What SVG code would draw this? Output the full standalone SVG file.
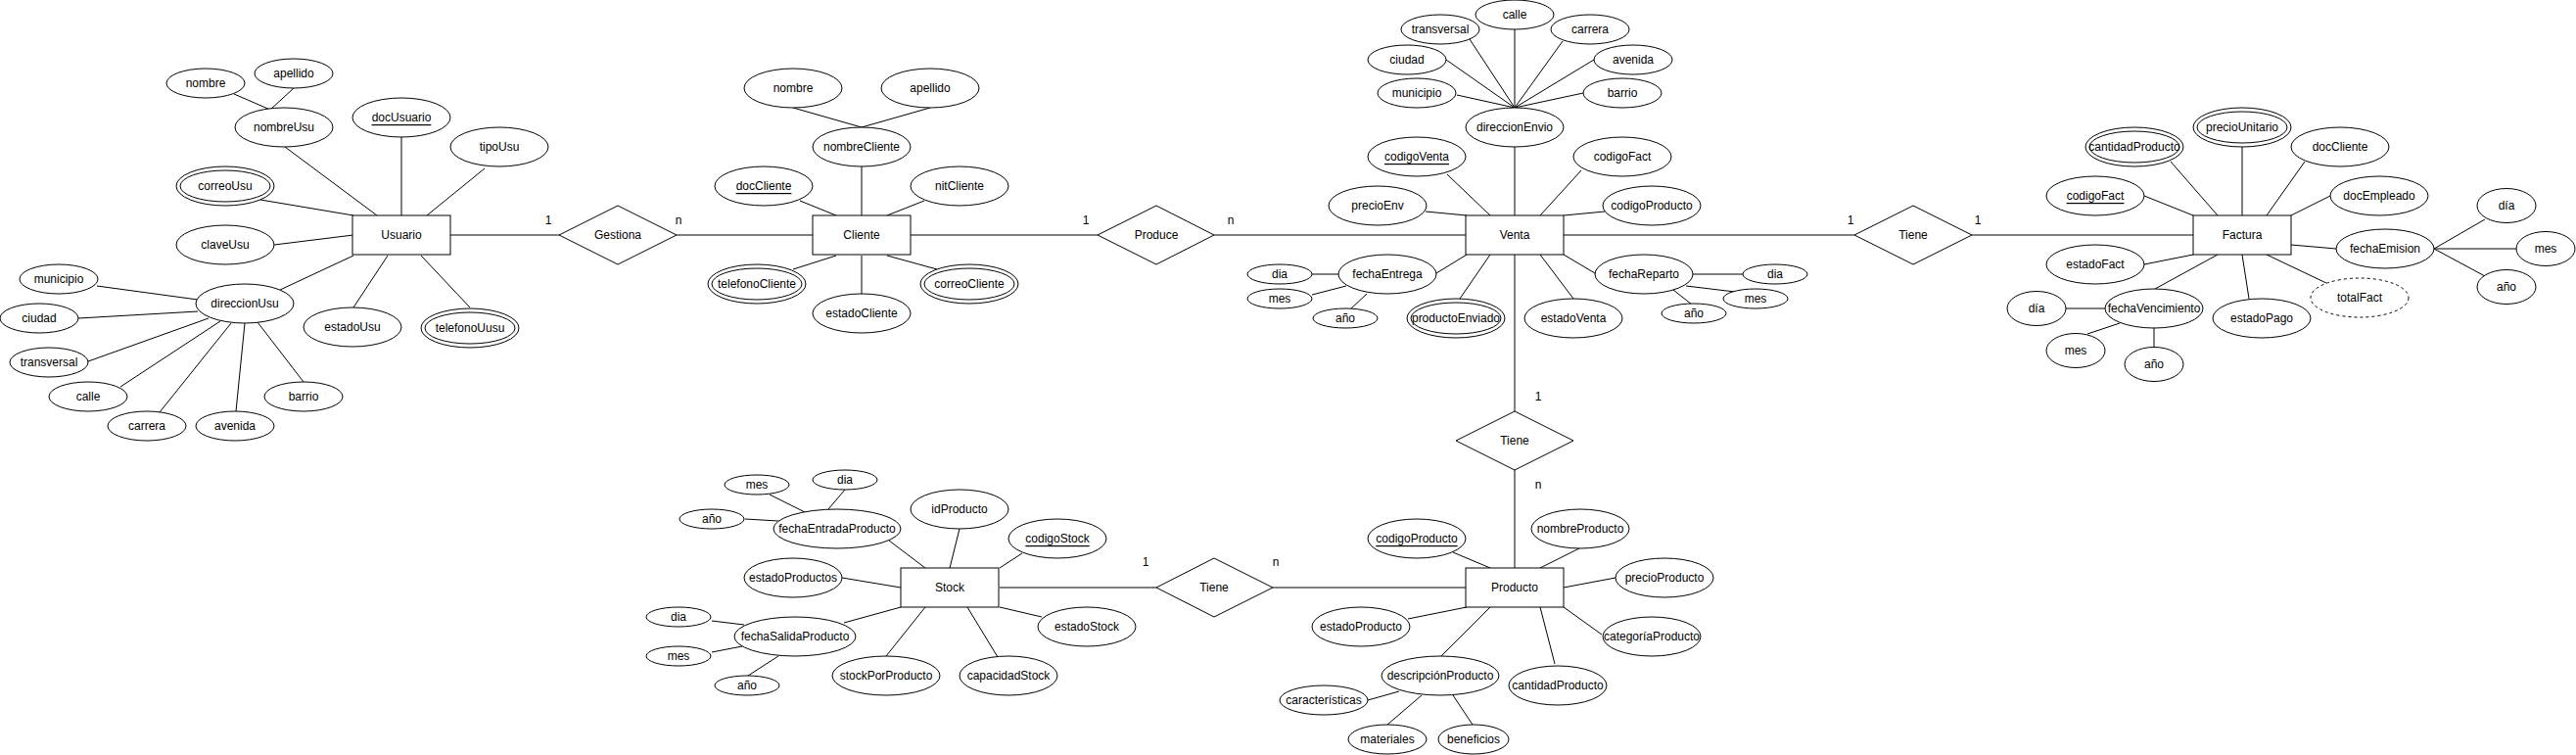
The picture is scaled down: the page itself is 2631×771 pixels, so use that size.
<svg xmlns="http://www.w3.org/2000/svg" width="2631" height="771" viewBox="0 0 2631 771">
<style>
.s{fill:#fff;stroke:#000;stroke-width:1}
.d{fill:#fff;stroke:#000;stroke-width:1;stroke-dasharray:3 3}
.c line{stroke:#000;stroke-width:1}
text{font-family:"Liberation Sans",Arial,sans-serif;font-size:12px;text-anchor:middle;dominant-baseline:central;fill:#000}
.u{text-decoration:underline}
</style>
<rect x="0" y="0" width="2631" height="771" fill="#fff"/>
<g id="connectors" class="c">
<line x1="239" y1="96" x2="276" y2="112"/>
<line x1="300" y1="90" x2="276" y2="112"/>
<line x1="291" y1="150" x2="385" y2="220"/>
<line x1="410" y1="140" x2="410" y2="220"/>
<line x1="495" y1="172" x2="436" y2="220"/>
<line x1="266" y1="204" x2="361" y2="220"/>
<line x1="280" y1="250" x2="361" y2="240"/>
<line x1="286" y1="296" x2="361" y2="261"/>
<line x1="361" y1="314" x2="396" y2="261"/>
<line x1="480" y1="314" x2="430" y2="261"/>
<line x1="460" y1="240" x2="571" y2="240"/>
<line x1="99" y1="292" x2="202" y2="306"/>
<line x1="80" y1="325" x2="202" y2="318"/>
<line x1="90" y1="369" x2="213" y2="325"/>
<line x1="123" y1="395" x2="225" y2="328"/>
<line x1="163" y1="421" x2="236" y2="330"/>
<line x1="241" y1="420" x2="250" y2="330"/>
<line x1="310" y1="390" x2="263" y2="329"/>
<line x1="810" y1="110" x2="880" y2="130"/>
<line x1="950" y1="110" x2="880" y2="130"/>
<line x1="880" y1="170" x2="880" y2="220"/>
<line x1="817" y1="205" x2="854" y2="220"/>
<line x1="944" y1="205" x2="906" y2="220"/>
<line x1="810" y1="275" x2="854" y2="261"/>
<line x1="957" y1="275" x2="906" y2="261"/>
<line x1="880" y1="300" x2="880" y2="261"/>
<line x1="691" y1="240" x2="830" y2="240"/>
<line x1="930" y1="240" x2="1121" y2="240"/>
<line x1="1240" y1="240" x2="1497" y2="240"/>
<line x1="1547" y1="30" x2="1547" y2="110"/>
<line x1="1501" y1="40" x2="1547" y2="110"/>
<line x1="1596" y1="42" x2="1547" y2="110"/>
<line x1="1477" y1="61" x2="1547" y2="110"/>
<line x1="1628" y1="61" x2="1547" y2="110"/>
<line x1="1488" y1="97" x2="1547" y2="110"/>
<line x1="1617" y1="95" x2="1547" y2="110"/>
<line x1="1547" y1="150" x2="1547" y2="220"/>
<line x1="1478" y1="178" x2="1522" y2="220"/>
<line x1="1615" y1="174" x2="1573" y2="220"/>
<line x1="1456" y1="216" x2="1498" y2="220"/>
<line x1="1639" y1="216" x2="1597" y2="220"/>
<line x1="1597" y1="240" x2="1894" y2="240"/>
<line x1="1467" y1="279" x2="1498" y2="260"/>
<line x1="1491" y1="305" x2="1522" y2="260"/>
<line x1="1607" y1="305" x2="1573" y2="260"/>
<line x1="1597" y1="260" x2="1629" y2="279"/>
<line x1="1729" y1="280" x2="1780" y2="280"/>
<line x1="1722" y1="292" x2="1772" y2="298"/>
<line x1="1709" y1="296" x2="1728" y2="311"/>
<line x1="1340" y1="280" x2="1367" y2="280"/>
<line x1="1340" y1="301" x2="1375" y2="292"/>
<line x1="1396" y1="300" x2="1379" y2="316"/>
<line x1="1547" y1="260" x2="1547" y2="420"/>
<line x1="1547" y1="480" x2="1547" y2="580"/>
<line x1="2014" y1="240" x2="2240" y2="240"/>
<line x1="2217" y1="165" x2="2265" y2="220"/>
<line x1="2290" y1="150" x2="2290" y2="220"/>
<line x1="2354" y1="165" x2="2315" y2="220"/>
<line x1="2190" y1="200" x2="2240" y2="220"/>
<line x1="2380" y1="200" x2="2340" y2="220"/>
<line x1="2386" y1="254" x2="2340" y2="250"/>
<line x1="2190" y1="270" x2="2240" y2="260"/>
<line x1="2201" y1="295" x2="2265" y2="260"/>
<line x1="2297" y1="305" x2="2290" y2="260"/>
<line x1="2378" y1="290" x2="2315" y2="260"/>
<line x1="2486" y1="254" x2="2538" y2="224"/>
<line x1="2486" y1="254" x2="2570" y2="254"/>
<line x1="2486" y1="254" x2="2538" y2="282"/>
<line x1="2110" y1="315" x2="2150" y2="315"/>
<line x1="2132" y1="341" x2="2165" y2="330"/>
<line x1="2200" y1="354" x2="2200" y2="335"/>
<line x1="1484" y1="564" x2="1522" y2="580"/>
<line x1="1613" y1="560" x2="1573" y2="580"/>
<line x1="1650" y1="590" x2="1597" y2="600"/>
<line x1="1438" y1="632" x2="1498" y2="620"/>
<line x1="1636" y1="648" x2="1597" y2="620"/>
<line x1="1472" y1="670" x2="1522" y2="620"/>
<line x1="1588" y1="678" x2="1573" y2="620"/>
<line x1="1397" y1="715" x2="1429" y2="706"/>
<line x1="1417" y1="740" x2="1452" y2="710"/>
<line x1="1504" y1="740" x2="1484" y2="710"/>
<line x1="1300" y1="600" x2="1498" y2="600"/>
<line x1="1021" y1="600" x2="1181" y2="600"/>
<line x1="786" y1="505" x2="822" y2="523"/>
<line x1="863" y1="500" x2="846" y2="520"/>
<line x1="761" y1="530" x2="795" y2="532"/>
<line x1="908" y1="552" x2="945" y2="580"/>
<line x1="980" y1="540" x2="970" y2="580"/>
<line x1="1044" y1="565" x2="1021" y2="580"/>
<line x1="860" y1="590" x2="920" y2="600"/>
<line x1="862" y1="636" x2="920" y2="620"/>
<line x1="905" y1="670" x2="945" y2="620"/>
<line x1="1019" y1="671" x2="988" y2="620"/>
<line x1="1064" y1="630" x2="1021" y2="620"/>
<line x1="727" y1="634" x2="760" y2="638"/>
<line x1="727" y1="666" x2="758" y2="660"/>
<line x1="764" y1="690" x2="795" y2="670"/>
<text x="560" y="225">1</text>
<text x="693" y="225">n</text>
<text x="1109" y="225">1</text>
<text x="1257" y="225">n</text>
<text x="1890" y="225">1</text>
<text x="2020" y="225">1</text>
<text x="1571" y="405">1</text>
<text x="1571" y="495">n</text>
<text x="1170" y="574">1</text>
<text x="1303" y="574">n</text>
</g>

<!-- Usuario -->
<g id="Usuario"><rect class="s" x="360" y="220" width="100" height="40"/><text x="410" y="240">Usuario</text></g>
<g id="usu_nombre"><ellipse class="s" cx="210" cy="85" rx="40" ry="15"/><text x="210" y="85">nombre</text></g>
<g id="usu_apellido"><ellipse class="s" cx="300" cy="75" rx="40" ry="15"/><text x="300" y="75">apellido</text></g>
<g id="nombreUsu"><ellipse class="s" cx="290" cy="130" rx="50" ry="20"/><text x="290" y="130">nombreUsu</text></g>
<g id="docUsuario"><ellipse class="s" cx="410" cy="120" rx="50" ry="20"/><text class="u" x="410" y="120">docUsuario</text></g>
<g id="tipoUsu"><ellipse class="s" cx="510" cy="150" rx="50" ry="20"/><text x="510" y="150">tipoUsu</text></g>
<g id="correoUsu"><ellipse class="s" cx="230" cy="190" rx="50" ry="20"/><ellipse class="s" cx="230" cy="190" rx="46" ry="16"/><text x="230" y="190">correoUsu</text></g>
<g id="claveUsu"><ellipse class="s" cx="230" cy="250" rx="50" ry="20"/><text x="230" y="250">claveUsu</text></g>
<g id="direccionUsu"><ellipse class="s" cx="250" cy="310" rx="50" ry="20"/><text x="250" y="310">direccionUsu</text></g>
<g id="estadoUsu"><ellipse class="s" cx="360" cy="334" rx="50" ry="20"/><text x="360" y="334">estadoUsu</text></g>
<g id="telefonoUusu"><ellipse class="s" cx="480" cy="335" rx="50" ry="20"/><ellipse class="s" cx="480" cy="335" rx="46" ry="16"/><text x="480" y="335">telefonoUusu</text></g>
<g id="usu_municipio"><ellipse class="s" cx="60" cy="285" rx="40" ry="15"/><text x="60" y="285">municipio</text></g>
<g id="usu_ciudad"><ellipse class="s" cx="40" cy="325" rx="40" ry="15"/><text x="40" y="325">ciudad</text></g>
<g id="usu_transversal"><ellipse class="s" cx="50" cy="370" rx="40" ry="15"/><text x="50" y="370">transversal</text></g>
<g id="usu_calle"><ellipse class="s" cx="90" cy="405" rx="40" ry="15"/><text x="90" y="405">calle</text></g>
<g id="usu_carrera"><ellipse class="s" cx="150" cy="435" rx="40" ry="15"/><text x="150" y="435">carrera</text></g>
<g id="usu_avenida"><ellipse class="s" cx="240" cy="435" rx="40" ry="15"/><text x="240" y="435">avenida</text></g>
<g id="usu_barrio"><ellipse class="s" cx="310" cy="405" rx="40" ry="15"/><text x="310" y="405">barrio</text></g>
<g id="Gestiona"><polygon class="s" points="571,240 631,210 691,240 631,270"/><text x="631" y="240">Gestiona</text></g>

<!-- Cliente -->
<g id="Cliente"><rect class="s" x="830" y="220" width="100" height="40"/><text x="880" y="240">Cliente</text></g>
<g id="cli_nombre"><ellipse class="s" cx="810" cy="90" rx="50" ry="20"/><text x="810" y="90">nombre</text></g>
<g id="cli_apellido"><ellipse class="s" cx="950" cy="90" rx="50" ry="20"/><text x="950" y="90">apellido</text></g>
<g id="nombreCliente"><ellipse class="s" cx="880" cy="150" rx="50" ry="20"/><text x="880" y="150">nombreCliente</text></g>
<g id="docCliente"><ellipse class="s" cx="780" cy="190" rx="50" ry="20"/><text class="u" x="780" y="190">docCliente</text></g>
<g id="nitCliente"><ellipse class="s" cx="980" cy="190" rx="50" ry="20"/><text x="980" y="190">nitCliente</text></g>
<g id="telefonoCliente"><ellipse class="s" cx="773" cy="290" rx="50" ry="20"/><ellipse class="s" cx="773" cy="290" rx="46" ry="16"/><text x="773" y="290">telefonoCliente</text></g>
<g id="correoCliente"><ellipse class="s" cx="990" cy="290" rx="50" ry="20"/><ellipse class="s" cx="990" cy="290" rx="46" ry="16"/><text x="990" y="290">correoCliente</text></g>
<g id="estadoCliente"><ellipse class="s" cx="880" cy="320" rx="50" ry="20"/><text x="880" y="320">estadoCliente</text></g>
<g id="Produce"><polygon class="s" points="1121,240 1181,210 1240,240 1181,270"/><text x="1181" y="240">Produce</text></g>

<!-- Venta -->
<g id="Venta"><rect class="s" x="1497" y="220" width="100" height="40"/><text x="1547" y="240">Venta</text></g>
<g id="direccionEnvio"><ellipse class="s" cx="1547" cy="130" rx="50" ry="20"/><text x="1547" y="130">direccionEnvio</text></g>
<g id="env_calle"><ellipse class="s" cx="1547" cy="15" rx="40" ry="15"/><text x="1547" y="15">calle</text></g>
<g id="env_transversal"><ellipse class="s" cx="1471" cy="30" rx="40" ry="15"/><text x="1471" y="30">transversal</text></g>
<g id="env_carrera"><ellipse class="s" cx="1624" cy="30" rx="40" ry="15"/><text x="1624" y="30">carrera</text></g>
<g id="env_ciudad"><ellipse class="s" cx="1437" cy="61" rx="40" ry="15"/><text x="1437" y="61">ciudad</text></g>
<g id="env_avenida"><ellipse class="s" cx="1668" cy="61" rx="40" ry="15"/><text x="1668" y="61">avenida</text></g>
<g id="env_municipio"><ellipse class="s" cx="1447" cy="95" rx="40" ry="15"/><text x="1447" y="95">municipio</text></g>
<g id="env_barrio"><ellipse class="s" cx="1657" cy="95" rx="40" ry="15"/><text x="1657" y="95">barrio</text></g>
<g id="codigoVenta"><ellipse class="s" cx="1447" cy="160" rx="50" ry="20"/><text class="u" x="1447" y="160">codigoVenta</text></g>
<g id="ven_codigoFact"><ellipse class="s" cx="1657" cy="160" rx="50" ry="20"/><text x="1657" y="160">codigoFact</text></g>
<g id="precioEnv"><ellipse class="s" cx="1407" cy="210" rx="50" ry="20"/><text x="1407" y="210">precioEnv</text></g>
<g id="ven_codigoProducto"><ellipse class="s" cx="1687" cy="210" rx="50" ry="20"/><text x="1687" y="210">codigoProducto</text></g>
<g id="fechaEntrega"><ellipse class="s" cx="1417" cy="280" rx="50" ry="20"/><text x="1417" y="280">fechaEntrega</text></g>
<g id="ent_dia"><ellipse class="s" cx="1307" cy="280" rx="33" ry="10"/><text x="1307" y="280">dia</text></g>
<g id="ent_mes"><ellipse class="s" cx="1307" cy="305" rx="33" ry="10"/><text x="1307" y="305">mes</text></g>
<g id="ent_anio"><ellipse class="s" cx="1374" cy="325" rx="33" ry="10"/><text x="1374" y="325">año</text></g>
<g id="productoEnviado"><ellipse class="s" cx="1487" cy="325" rx="50" ry="20"/><ellipse class="s" cx="1487" cy="325" rx="46" ry="16"/><text x="1487" y="325">productoEnviado</text></g>
<g id="estadoVenta"><ellipse class="s" cx="1607" cy="325" rx="50" ry="20"/><text x="1607" y="325">estadoVenta</text></g>
<g id="fechaReparto"><ellipse class="s" cx="1679" cy="280" rx="50" ry="20"/><text x="1679" y="280">fechaReparto</text></g>
<g id="rep_dia"><ellipse class="s" cx="1813" cy="280" rx="33" ry="10"/><text x="1813" y="280">dia</text></g>
<g id="rep_mes"><ellipse class="s" cx="1793" cy="305" rx="33" ry="10"/><text x="1793" y="305">mes</text></g>
<g id="rep_anio"><ellipse class="s" cx="1730" cy="320" rx="33" ry="10"/><text x="1730" y="320">año</text></g>
<g id="Tiene_VF"><polygon class="s" points="1894,240 1954,210 2014,240 1954,270"/><text x="1954" y="240">Tiene</text></g>
<g id="Tiene_VP"><polygon class="s" points="1487,450 1547,420 1607,450 1547,480"/><text x="1547" y="450">Tiene</text></g>

<!-- Factura -->
<g id="Factura"><rect class="s" x="2240" y="220" width="100" height="40"/><text x="2290" y="240">Factura</text></g>
<g id="cantidadProducto_f"><ellipse class="s" cx="2180" cy="150" rx="50" ry="20"/><ellipse class="s" cx="2180" cy="150" rx="46" ry="16"/><text x="2180" y="150">cantidadProducto</text></g>
<g id="precioUnitario"><ellipse class="s" cx="2290" cy="130" rx="50" ry="20"/><ellipse class="s" cx="2290" cy="130" rx="46" ry="16"/><text x="2290" y="130">precioUnitario</text></g>
<g id="fac_docCliente"><ellipse class="s" cx="2390" cy="150" rx="50" ry="20"/><text x="2390" y="150">docCliente</text></g>
<g id="codigoFact"><ellipse class="s" cx="2140" cy="200" rx="50" ry="20"/><text class="u" x="2140" y="200">codigoFact</text></g>
<g id="docEmpleado"><ellipse class="s" cx="2430" cy="200" rx="50" ry="20"/><text x="2430" y="200">docEmpleado</text></g>
<g id="fechaEmision"><ellipse class="s" cx="2436" cy="254" rx="50" ry="20"/><text x="2436" y="254">fechaEmision</text></g>
<g id="emi_dia"><ellipse class="s" cx="2560" cy="210" rx="30" ry="17.5"/><text x="2560" y="210">día</text></g>
<g id="emi_mes"><ellipse class="s" cx="2600" cy="254" rx="30" ry="17.5"/><text x="2600" y="254">mes</text></g>
<g id="emi_anio"><ellipse class="s" cx="2560" cy="293" rx="30" ry="17.5"/><text x="2560" y="293">año</text></g>
<g id="estadoFact"><ellipse class="s" cx="2140" cy="270" rx="50" ry="20"/><text x="2140" y="270">estadoFact</text></g>
<g id="totalFact"><ellipse class="d" cx="2410" cy="304" rx="50" ry="20"/><text x="2410" y="304">totalFact</text></g>
<g id="estadoPago"><ellipse class="s" cx="2310" cy="325" rx="50" ry="20"/><text x="2310" y="325">estadoPago</text></g>
<g id="fechaVencimiento"><ellipse class="s" cx="2200" cy="315" rx="50" ry="20"/><text x="2200" y="315">fechaVencimiento</text></g>
<g id="ven_dia"><ellipse class="s" cx="2080" cy="315" rx="30" ry="17.5"/><text x="2080" y="315">día</text></g>
<g id="ven_mes"><ellipse class="s" cx="2120" cy="358" rx="30" ry="17.5"/><text x="2120" y="358">mes</text></g>
<g id="ven_anio"><ellipse class="s" cx="2200" cy="372" rx="30" ry="17.5"/><text x="2200" y="372">año</text></g>

<!-- Producto -->
<g id="Producto"><rect class="s" x="1497" y="580" width="100" height="40"/><text x="1547" y="600">Producto</text></g>
<g id="codigoProducto"><ellipse class="s" cx="1447" cy="550" rx="50" ry="20"/><text class="u" x="1447" y="550">codigoProducto</text></g>
<g id="nombreProducto"><ellipse class="s" cx="1614" cy="540" rx="50" ry="20"/><text x="1614" y="540">nombreProducto</text></g>
<g id="precioProducto"><ellipse class="s" cx="1700" cy="590" rx="50" ry="20"/><text x="1700" y="590">precioProducto</text></g>
<g id="estadoProducto"><ellipse class="s" cx="1390" cy="640" rx="50" ry="20"/><text x="1390" y="640">estadoProducto</text></g>
<g id="categoriaProducto"><ellipse class="s" cx="1687" cy="650" rx="50" ry="20"/><text x="1687" y="650">categoríaProducto</text></g>
<g id="descripcionProducto"><ellipse class="s" cx="1471" cy="690" rx="60" ry="20"/><text x="1471" y="690">descripciónProducto</text></g>
<g id="cantidadProducto"><ellipse class="s" cx="1591" cy="700" rx="50" ry="20"/><text x="1591" y="700">cantidadProducto</text></g>
<g id="caracteristicas"><ellipse class="s" cx="1352" cy="715" rx="45" ry="15"/><text x="1352" y="715">características</text></g>
<g id="materiales"><ellipse class="s" cx="1417" cy="755" rx="40" ry="15"/><text x="1417" y="755">materiales</text></g>
<g id="beneficios"><ellipse class="s" cx="1505" cy="755" rx="36" ry="15"/><text x="1505" y="755">beneficios</text></g>
<g id="Tiene_SP"><polygon class="s" points="1181,600 1240,570 1300,600 1240,630"/><text x="1240" y="600">Tiene</text></g>

<!-- Stock -->
<g id="Stock"><rect class="s" x="920" y="580" width="100" height="40"/><text x="970" y="600">Stock</text></g>
<g id="fechaEntradaProducto"><ellipse class="s" cx="855" cy="540" rx="65" ry="20"/><text x="855" y="540">fechaEntradaProducto</text></g>
<g id="fe_mes"><ellipse class="s" cx="773" cy="495" rx="33" ry="10"/><text x="773" y="495">mes</text></g>
<g id="fe_dia"><ellipse class="s" cx="863" cy="490" rx="33" ry="10"/><text x="863" y="490">dia</text></g>
<g id="fe_anio"><ellipse class="s" cx="727" cy="530" rx="33" ry="10"/><text x="727" y="530">año</text></g>
<g id="idProducto"><ellipse class="s" cx="980" cy="520" rx="50" ry="20"/><text x="980" y="520">idProducto</text></g>
<g id="codigoStock"><ellipse class="s" cx="1080" cy="550" rx="50" ry="20"/><text class="u" x="1080" y="550">codigoStock</text></g>
<g id="estadoProductos"><ellipse class="s" cx="810" cy="590" rx="50" ry="20"/><text x="810" y="590">estadoProductos</text></g>
<g id="fechaSalidaProducto"><ellipse class="s" cx="812" cy="650" rx="62" ry="20"/><text x="812" y="650">fechaSalidaProducto</text></g>
<g id="fs_dia"><ellipse class="s" cx="693" cy="630" rx="33" ry="10"/><text x="693" y="630">dia</text></g>
<g id="fs_mes"><ellipse class="s" cx="693" cy="670" rx="33" ry="10"/><text x="693" y="670">mes</text></g>
<g id="fs_anio"><ellipse class="s" cx="763" cy="700" rx="33" ry="10"/><text x="763" y="700">año</text></g>
<g id="stockPorProducto"><ellipse class="s" cx="905" cy="690" rx="55" ry="20"/><text x="905" y="690">stockPorProducto</text></g>
<g id="capacidadStock"><ellipse class="s" cx="1030" cy="690" rx="50" ry="20"/><text x="1030" y="690">capacidadStock</text></g>
<g id="estadoStock"><ellipse class="s" cx="1110" cy="640" rx="50" ry="20"/><text x="1110" y="640">estadoStock</text></g>
</svg>
